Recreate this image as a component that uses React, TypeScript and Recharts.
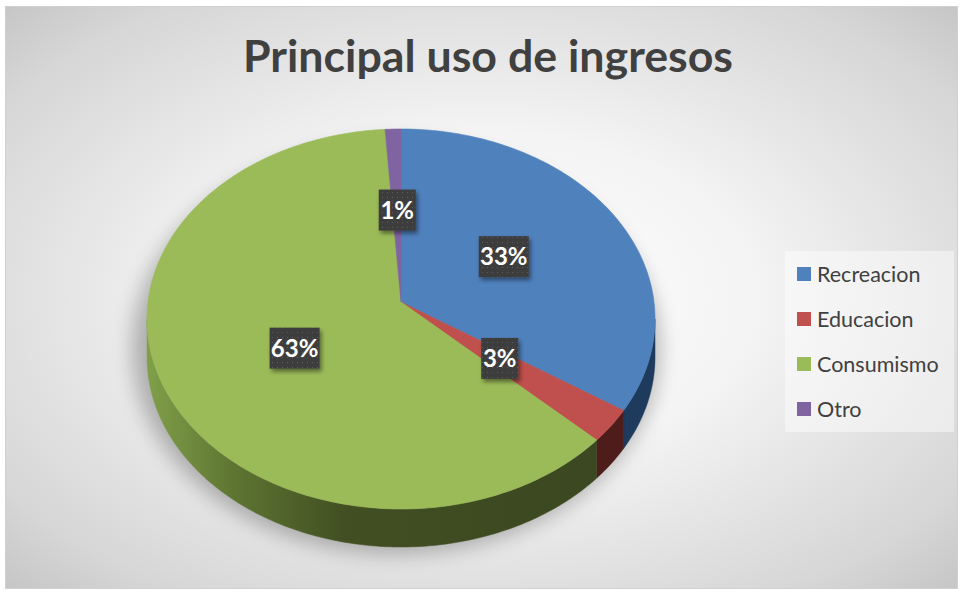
import { PieChart, Pie, Cell, Legend } from 'recharts'

const names = ['Recreacion', 'Educacion', 'Consumismo', 'Otro']
const values = [33, 3, 63, 1]
const colors = ['#4F81BD', '#C0504D', '#9BBB59', '#8064A2']
const wallColors = ['#1E3A5C', '#4D1C1B', 'url(#greenWall)', '#3B2C52']

const data = names.map((name, i) => ({ name, value: values[i] }))

// 3d pie geometry (ellipse radii, wall height, apex lift)
const RX = 254
const RY = 190
const DEPTH = 38
const APEX = 17

function rimPoint(cx: number, cy: number, deg: number) {
  const r = (deg * Math.PI) / 180
  return [cx + RX * Math.cos(r), cy - RY * Math.sin(r)]
}

function arcPoints(cx: number, cy: number, from: number, to: number) {
  const pts: number[][] = []
  const step = from > to ? -1 : 1
  for (let a = from; step < 0 ? a > to : a < to; a += step) pts.push(rimPoint(cx, cy, a))
  pts.push(rimPoint(cx, cy, to))
  return pts
}

function Slice3D(props: any) {
  const { cx, cy, startAngle, endAngle, fill } = props
  const name = props.payload?.name ?? props.name
  const idx = names.indexOf(name)
  const hi = Math.max(startAngle, endAngle)
  const lo = Math.min(startAngle, endAngle)

  const face = [[cx, cy - APEX], ...arcPoints(cx, cy, hi, lo)]
  const faceD = 'M' + face.map((p) => `${p[0].toFixed(2)},${p[1].toFixed(2)}`).join('L') + 'Z'

  let wallD = ''
  const wHi = Math.min(hi, 0)
  const wLo = Math.max(lo, -180)
  if (wHi > wLo) {
    const top = arcPoints(cx, cy, wHi, wLo)
    const bottom = [...top].reverse().map((p) => [p[0], p[1] + DEPTH])
    wallD =
      'M' + [...top, ...bottom].map((p) => `${p[0].toFixed(2)},${p[1].toFixed(2)}`).join('L') + 'Z'
  }

  return (
    <g>
      {wallD && <path d={wallD} fill={wallColors[idx]} stroke={wallColors[idx]} strokeWidth={0.5} />}
      <path d={faceD} fill={fill} stroke={fill} strokeWidth={0.6} />
    </g>
  )
}

function renderLabel(props: any) {
  const { cx, cy, midAngle, percent } = props
  const r = (midAngle * Math.PI) / 180
  const x = cx + 0.47 * RX * Math.cos(r)
  const y = cy - 14 - 0.5 * RY * Math.sin(r)
  const txt = `${Math.round(percent * 100)}%`
  const w = 24 + 13 * (txt.length - 1)
  return (
    <g>
      <rect
        x={x - w / 2}
        y={y - 20.5}
        width={w}
        height={41}
        fill="url(#dotFill)"
        filter="url(#boxShadow)"
      />
      <text
        x={x}
        y={y + 8.5}
        textAnchor="middle"
        fill="#fff"
        fontFamily="Lato, 'Open Sans', sans-serif"
        fontWeight={700}
        fontSize={24}
      >
        {txt}
      </text>
    </g>
  )
}

function LegendBox() {
  return (
    <div
      style={{
        width: 169,
        height: 181,
        background: 'rgba(255,255,255,0.45)',
        fontFamily: "Lato, 'Open Sans', sans-serif",
        fontSize: 21.5,
        color: '#404040',
      }}
    >
      {names.map((n, i) => (
        <div
          key={n}
          style={{ height: 45, display: 'flex', alignItems: 'center', paddingLeft: 12 }}
        >
          <span
            style={{
              display: 'inline-block',
              width: 14,
              height: 14,
              background: colors[i],
              marginRight: 6,
            }}
          />
          {n}
        </div>
      ))}
    </div>
  )
}

export default function App() {
  return (
    <div style={{ position: 'absolute', left: 0, top: 0, width: 961, height: 590, background: '#fff' }}>
      <svg width={0} height={0} style={{ position: 'absolute' }}>
        <defs>
          <pattern id="dotFill" width={5} height={5} patternUnits="userSpaceOnUse">
            <rect width={5} height={5} fill="#3d3d3d" />
            <rect x={2} y={2} width={1} height={1} fill="#5c5c5c" />
          </pattern>
          <filter id="boxShadow" x="-30%" y="-30%" width="160%" height="160%">
            <feDropShadow dx={2} dy={3} stdDeviation={2} floodColor="#000" floodOpacity={0.45} />
          </filter>
          <linearGradient id="greenWall" gradientUnits="userSpaceOnUse" x1={142} y1={0} x2={650} y2={0}>
            <stop offset="0" stopColor="#82A24A" />
            <stop offset="0.18" stopColor="#5E7532" />
            <stop offset="0.4" stopColor="#414F22" />
            <stop offset="1" stopColor="#3A4620" />
          </linearGradient>
          <filter id="pieShadow" x="-20%" y="-20%" width="140%" height="140%">
            <feGaussianBlur stdDeviation={10} />
          </filter>
        </defs>
      </svg>
      <div
        style={{
          position: 'absolute',
          left: 5,
          top: 6,
          width: 951,
          height: 581,
          border: '1px solid #d0d0d0',
          background:
            'radial-gradient(ellipse at 50% 50%, #ffffff 0%, #f4f4f4 40%, #d6d6d6 85%, #c6c6c6 100%)',
        }}
      />
      <svg width={961} height={590} style={{ position: 'absolute', left: 0, top: 0 }}>
        <ellipse cx={396} cy={348} rx={264} ry={206} fill="#000" opacity={0.26} filter="url(#pieShadow)" />
        <text
          x={488}
          y={72}
          textAnchor="middle"
          fill="#404040"
          fontFamily="Lato, 'Open Sans', sans-serif"
          fontWeight={700}
          fontSize={44}
          textLength={490}
          lengthAdjust="spacingAndGlyphs"
        >
          Principal uso de ingresos
        </text>
      </svg>
      <div style={{ position: 'absolute', left: 0, top: 0 }}>
        <PieChart width={961} height={590}>
          <Pie
            data={data}
            dataKey="value"
            nameKey="name"
            cx={396}
            cy={314}
            outerRadius={RX}
            startAngle={90}
            endAngle={-270}
            stroke="none"
            isAnimationActive={false}
            labelLine={false}
            label={renderLabel}
            shape={Slice3D}
            activeShape={Slice3D}
            inactiveShape={Slice3D}
          >
            {data.map((d, i) => (
              <Cell key={d.name} fill={colors[i]} />
            ))}
          </Pie>
          <Legend
            content={<LegendBox />}
            wrapperStyle={{ position: 'absolute', left: 785, top: 251, width: 169, height: 181 }}
          />
        </PieChart>
      </div>
    </div>
  )
}
